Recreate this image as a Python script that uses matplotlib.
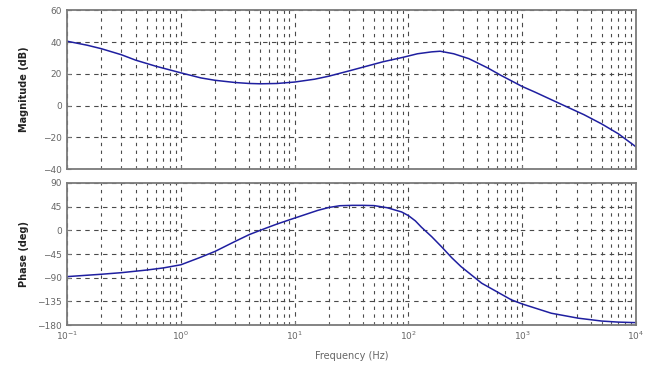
import matplotlib.pyplot as plt
from matplotlib.ticker import LogLocator, NullFormatter, FixedLocator

# magnitude
mag_freq = [0.1, 0.15, 0.2, 0.3, 0.4, 0.6, 1.0, 1.5, 2.0, 3.0, 4.0, 5.0, 7.0, 10.0,
            15.0, 20.0, 30.0, 40.0, 60.0, 90.0, 120.0, 160.0, 190.0, 250.0, 340.0,
            500.0, 650.0, 1000.0, 1300.0, 2000.0, 2500.0, 3500.0, 5000.0, 7000.0, 10000.0]
mag_db = [40.5, 38.0, 35.8, 32.0, 28.6, 24.8, 20.6, 17.4, 15.9, 14.5, 13.9, 13.7, 13.9, 14.8,
          16.6, 18.5, 21.8, 24.2, 27.6, 30.4, 32.6, 33.8, 34.2, 32.6, 29.5,
          23.6, 19.0, 12.0, 8.4, 2.2, -1.0, -5.8, -11.6, -17.8, -26.0]

# phase
ph_freq = [0.1, 0.2, 0.3, 0.5, 0.7, 1.0, 1.5, 2.0, 3.0, 4.0, 5.6, 7.0, 9.0, 12.0,
           16.0, 20.0, 25.0, 32.0, 40.0, 50.0, 65.0, 87.0, 100.0, 115.0, 130.0, 160.0, 195.0,
           240.0, 290.0, 440.0, 800.0, 1000.0, 1800.0, 3100.0, 5000.0, 7000.0, 10000.0]
ph_deg = [-88.0, -83.5, -80.5, -75.5, -71.5, -65.5, -51.0, -40.0, -21.0, -8.0, 4.2, 12.0, 20.0, 29.0,
          38.0, 43.5, 46.8, 47.5, 47.5, 47.0, 43.0, 35.0, 28.0, 18.0, 6.0, -12.0, -31.0,
          -52.0, -69.0, -100.5, -132.0, -140.0, -157.6, -167.0, -172.5, -174.5, -175.5]

mag_ticks = [-40, -20, 0, 20, 40, 60]
ph_ticks = [-180, -135, -90, -45, 0, 45, 90]
x_ticks = [0.1, 1, 10, 100, 1000, 10000]
x_labels = [r'$10^{-1}$', r'$10^{0}$', r'$10^{1}$', r'$10^{2}$', r'$10^{3}$', r'$10^{4}$']

fig = plt.figure(figsize=(6.51, 3.66), dpi=100)
ax1 = fig.add_axes([0.103, 0.538, 0.874, 0.434])
ax2 = fig.add_axes([0.103, 0.112, 0.874, 0.388])

line_col = '#1f1fa0'
grid_col = '#4a4a4a'
frame_col = '#7a7a7a'
txt_col = '#666666'

for ax in (ax1, ax2):
    ax.set_xscale('log')
    ax.set_xlim(0.1, 10000)
    ax.xaxis.set_major_locator(FixedLocator(x_ticks))
    ax.xaxis.set_minor_locator(LogLocator(base=10, subs=range(2, 10), numticks=20))
    ax.xaxis.set_minor_formatter(NullFormatter())
    ax.grid(True, which='major', axis='both', color=grid_col, ls=(0, (4, 4)), lw=0.8)
    ax.grid(True, which='minor', axis='x', color=grid_col, ls=(0, (3, 4)), lw=0.8)
    ax.tick_params(which='both', direction='in', colors=frame_col, labelcolor=txt_col,
                   labelsize=6.5, length=3)
    ax.tick_params(which='minor', length=1.5)
    for s in ax.spines.values():
        s.set_color(frame_col)
        s.set_linewidth(1.3)

ax1.plot(mag_freq, mag_db, color=line_col, lw=1.1)
ax1.set_ylim(-40, 60)
ax1.set_yticks(mag_ticks)
ax1.set_xticklabels([])
ax1.set_ylabel('Magnitude (dB)', fontsize=7, fontweight='bold', color='#222222', labelpad=10)

ax2.plot(ph_freq, ph_deg, color=line_col, lw=1.1)
ax2.set_ylim(-180, 90)
ax2.set_yticks(ph_ticks)
ax2.set_xticklabels(x_labels)
ax2.set_ylabel('Phase (deg)', fontsize=7, fontweight='bold', color='#222222', labelpad=6)
ax2.set_xlabel('Frequency (Hz)', fontsize=7, color=txt_col, labelpad=6)

fig.savefig('out.png', dpi=100)
